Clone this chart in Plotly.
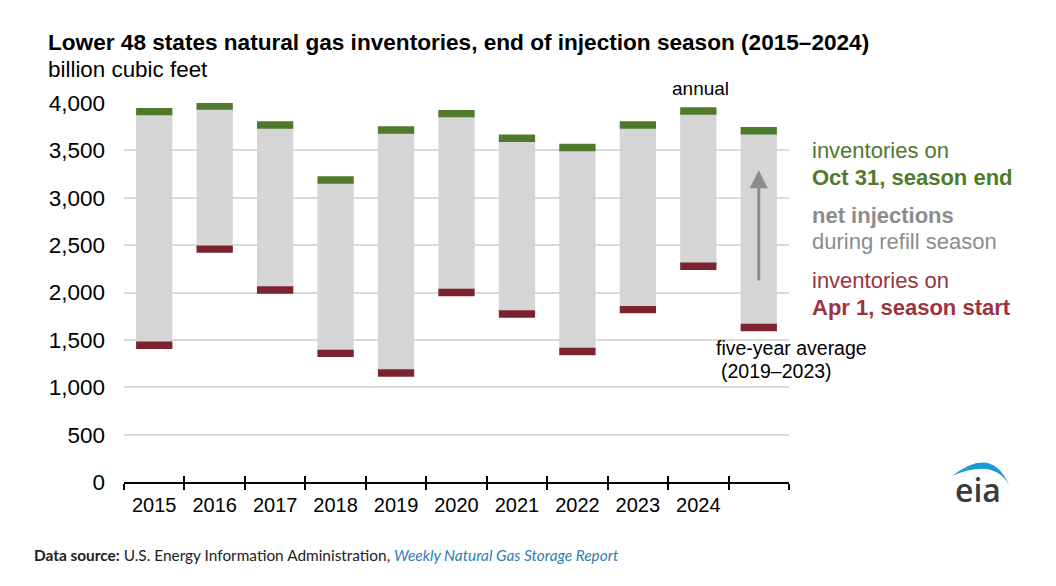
import plotly.graph_objects as go

# inventories (billion cubic feet)
categories = ["2015", "2016", "2017", "2018", "2019", "2020", "2021", "2022", "2023", "2024", "avg"]
tick_labels = ["2015", "2016", "2017", "2018", "2019", "2020", "2021", "2022", "2023", "2024", ""]
apr1_start = [1443, 2458, 2026, 1358, 1150, 2000, 1773, 1377, 1819, 2277, 1630]
oct31_end = [3909, 3968, 3768, 3187, 3715, 3888, 3628, 3530, 3768, 3916, 3707]
y_ticks = [0, 500, 1000, 1500, 2000, 2500, 3000, 3500, 4000]

CAP = 78  # thickness of the coloured caps
GREEN = "#4f7a2b"
RED = "#7d2330"
GRAY_BAR = "#d5d5d5"
FONT = "Liberation Sans, Arial, sans-serif"

W, H = 1056, 586
OFF = 8  # page body margin of the html page
# plot area in screen pixels
X0, X1, Y0, Y1 = 124, 789, 103, 482
L, R, T, B = X0 - OFF, W - (X1 - OFF), Y0 - OFF, H - (Y1 - OFF)


def px(x):
    return (x - X0) / (X1 - X0)


def py(y):
    return (Y1 - y) / (Y1 - Y0)


fig = go.Figure()

# net injections (gray floating bar)
fig.add_trace(go.Bar(
    x=categories, y=[e - s for s, e in zip(apr1_start, oct31_end)], base=apr1_start,
    marker=dict(color=GRAY_BAR, line=dict(width=0)), width=0.6, hoverinfo="skip",
))
# Apr 1 caps
fig.add_trace(go.Bar(
    x=categories, y=[CAP] * len(categories), base=[s - CAP / 2 for s in apr1_start],
    marker=dict(color=RED, line=dict(width=0)), width=0.6, hoverinfo="skip",
))
# Oct 31 caps
fig.add_trace(go.Bar(
    x=categories, y=[CAP] * len(categories), base=[e - CAP / 2 for e in oct31_end],
    marker=dict(color=GREEN, line=dict(width=0)), width=0.6, hoverinfo="skip",
))
# helper trace so the second x axis draws the upper half of the ticks
fig.add_trace(go.Scatter(
    x=categories, y=oct31_end, xaxis="x2", mode="markers",
    marker=dict(opacity=0), hoverinfo="skip",
))

ann = []


def txt(x, y, s, size, color="black", anchor="left", bold=False):
    ann.append(dict(
        x=px(x), y=py(y), xref="paper", yref="paper", text=f"<b>{s}</b>" if bold else s,
        showarrow=False, xanchor=anchor, yanchor="middle",
        font=dict(family=FONT, size=size, color=color),
    ))


txt(46, 43, "Lower 48 states natural gas inventories, end of injection season (2015–2024)", 22.6, bold=True)
txt(46, 69, "billion cubic feet", 22.4)
txt(700, 88, "annual", 19, anchor="center")
txt(810, 150, "inventories on", 22, color=GREEN)
txt(810, 177, "Oct 31, season end", 22, color=GREEN, bold=True)
txt(810, 215, "net injections", 22, color="#8c8c8c", bold=True)
txt(810, 242, "during refill season", 22, color="#8c8c8c")
txt(810, 280, "inventories on", 22, color="#9c3340")
txt(810, 307, "Apr 1, season start", 22, color="#9c3340", bold=True)
txt(714, 348, "five-year average", 19.5)
txt(719, 371, "(2019–2023)", 19.5)

ann.append(dict(
    x=px(32), y=py(555), xref="paper", yref="paper", showarrow=False,
    xanchor="left", yanchor="middle",
    text="<b>Data source:</b> U.S. Energy Information Administration, "
         "<i><span style='color:#2f7db5'>Weekly Natural Gas Storage Report</span></i>",
    font=dict(family="Lato, sans-serif", size=15.4, color="#222222"),
))
ann.append(dict(
    x=px(978), y=py(489), xref="paper", yref="paper", showarrow=False,
    xanchor="center", yanchor="middle", text="eia",
    font=dict(family="Open Sans, sans-serif", size=32, color="#3a3a3a", weight=600),
))
# arrow on the five-year average bar
ann.append(dict(
    x="avg", y=3290, ax="avg", ay=2110, xref="x", yref="y", axref="x", ayref="y",
    showarrow=True, arrowhead=2, arrowsize=1.2, arrowwidth=3, arrowcolor="#8c8c8c", text="",
))

fig.update_layout(
    width=W, height=H,
    margin=dict(l=L, r=R, t=T, b=B),
    paper_bgcolor="white", plot_bgcolor="white",
    barmode="overlay", showlegend=False,
    annotations=ann,
    shapes=[dict(
        type="path", xref="paper", yref="paper", line=dict(width=0), fillcolor="#1a9ad6",
        path=f"M {px(952)},{py(476)} Q {px(992)},{py(445)} {px(1009)},{py(485)} "
             f"Q {px(994)},{py(458)} {px(952)},{py(476)} Z",
    )],
    xaxis=dict(
        tickmode="array", tickvals=categories, ticktext=tick_labels,
        tickson="boundaries", ticks="outside", ticklen=6, tickwidth=2, tickcolor="black",
        showline=True, linecolor="black", linewidth=2, showgrid=False,
        tickfont=dict(family=FONT, size=20, color="black"), ticklabelstandoff=4,
        range=[-0.5, 10.5],
    ),
    xaxis2=dict(
        overlaying="x", matches="x", anchor="y", side="bottom",
        tickmode="array", tickvals=categories,
        tickson="boundaries", ticks="inside", ticklen=6, tickwidth=2, tickcolor="black",
        showticklabels=False, showgrid=False, showline=False,
    ),
    yaxis=dict(
        range=[0, 4000], tickvals=y_ticks, tickformat=",",
        showgrid=True, gridcolor="#d9d9d9", gridwidth=1.5, zeroline=False,
        ticks="", ticklabelstandoff=18,
        tickfont=dict(family=FONT, size=22.5, color="black"),
    ),
)

fig.write_html("out.html")
